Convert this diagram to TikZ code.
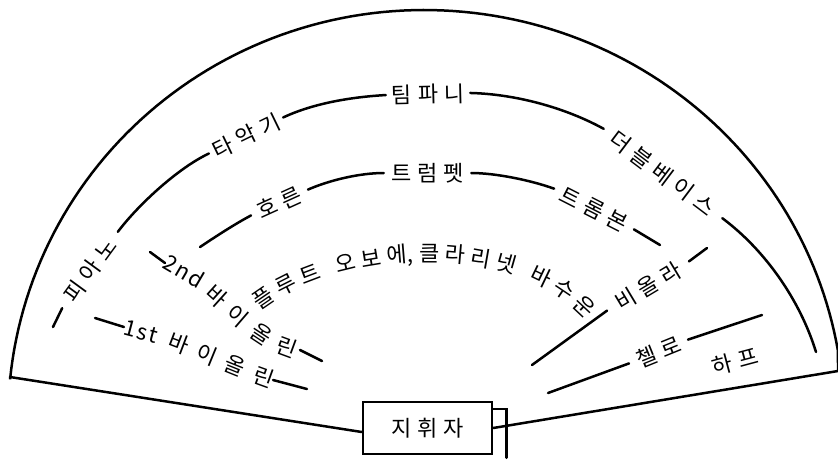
\documentclass[tikz,border=0pt]{standalone}
\usepackage{fontspec}
\setmainfont{Noto Sans CJK KR}
\newfontfamily\kr[LetterSpace=27]{Noto Sans CJK KR}
\usetikzlibrary{decorations.text,calc}
\begin{document}
\begin{tikzpicture}[x=1pt,y=-1pt, line width=2.5pt, line cap=round,
  lab/.style={inner sep=0pt, font=\kr\fontsize{22}{26}\selectfont, text height=18pt, text depth=1pt},
  curvtext/.style={decorate, decoration={text along path, text={|\fontsize{22}{26}\selectfont|#1}, text align={fit to path}, raise=-8.4pt}}]
\useasboundingbox (0,0) rectangle (838,459);
\fill[white] (0,0) rectangle (838,459);

% stage outline
\coordinate (L) at (10,377);
\coordinate (R) at (838,371);
\node[draw, minimum width=129pt, minimum height=52pt, inner sep=0pt, font=\kr\fontsize{22}{26}\selectfont] (cond) at (427.5,428) {지휘자};
\draw ([yshift=-8pt]cond.north east) -- ++(13,0) -- ++(0,49);
\draw (L) -- plot[domain=174.3:90, samples=60] ({424+416*cos(\x)},{420-410*sin(\x)})
      -- plot[domain=90:9.7, samples=60] ({424+420*cos(\x)},{420-410*sin(\x)}) -- (R);
\draw (L) -- ([yshift=-4pt]cond.west);
\draw (R) -- (cond.east);

% labels
\node[lab, rotate=53.9, minimum width=92pt] (piano) at (90,270) {피아노};
\node[lab, rotate=25.9, minimum width=80pt] (taak) at (246,135.5) {타악기};
\node[lab, rotate=1.4, minimum width=82pt] (timp) at (428,94) {팀파니};
\node[lab, rotate=-37, minimum width=146pt] (dbass) at (663,173.5) {더블베이스};
\node[lab, rotate=24.4, minimum width=60pt] (horn) at (279.5,202.5) {호른};
\node[lab, minimum width=85pt] (trum) at (427.5,173) {트럼펫};
\node[lab, rotate=-27, minimum width=87pt] (tromb) at (594,209) {트롬본};
\node[lab, rotate=31, minimum width=93pt] (viola) at (648,286) {비올라};
\node[lab, rotate=22, minimum width=61pt] (cello) at (658.5,351.5) {첼로};
\node[lab, rotate=15] (harp) at (735,361) {하프};

% second row arc
\coordinate (A0) at (53,327);
\coordinate (B1) at (816,352);
\draw (A0) -- (piano.west);
\draw (piano.east) .. controls (138,205) and (178,168) .. (taak.west);
\draw (taak.east) .. controls (314,103) and (352,97) .. (timp.west);
\draw (timp.east) .. controls (514,94) and (564,107) .. (dbass.west);
\draw (dbass.east) .. controls (765,250) and (800,300) .. (B1);

% third row arc
\coordinate (B2) at (200,247);
\coordinate (B3) at (660,245);
\draw (B2) .. controls (218,235) and (235,224) .. (horn.west);
\draw (horn.east) .. controls (330,180) and (360,173) .. (trum.west);
\draw (trum.east) .. controls (495,173) and (530,180) .. (tromb.west);
\draw (tromb.east) -- (B3);

% viola, cello
\coordinate (B4) at (532,365);
\coordinate (B5) at (707,248);
\coordinate (B6) at (548,393);
\coordinate (B7) at (762,315);
\draw (B4) -- (viola.west);
\draw (viola.east) -- (B5);
\draw (B6) -- (cello.west);
\draw (cello.east) -- (B7);

% violins
\coordinate (V2a) at (150,252);
\coordinate (V2b) at (165,263);
\coordinate (V2c) at (297,350);
\coordinate (V2d) at (322,361);
\draw (V2a) -- (V2b);
\draw ([xshift=3pt]V2c) -- (V2d);
\path[curvtext={{2\kern1.5pt n\kern1.5pt d}바이올린}] (V2b) .. controls (210,275) and (240,335) .. (V2c);

\coordinate (V1a) at (95,318);
\coordinate (V1b) at (124,327);
\coordinate (V1c) at (273,380);
\coordinate (V1d) at (307,389);
\draw (V1a) -- (V1b);
\draw (V1c) -- (V1d);
\path[curvtext={{1\kern2pt s\kern2pt t\kern3pt}바이올린}] (V1b) .. controls (170,335) and (220,362) .. (V1c);

% woodwinds
\coordinate (W1) at (255,304);
\coordinate (W2) at (592,313);
\path[curvtext={플루트 오보{에,}클라리넷 바수운}] (W1) .. controls (330,245) and (510,225) .. (W2);
\end{tikzpicture}
\end{document}
